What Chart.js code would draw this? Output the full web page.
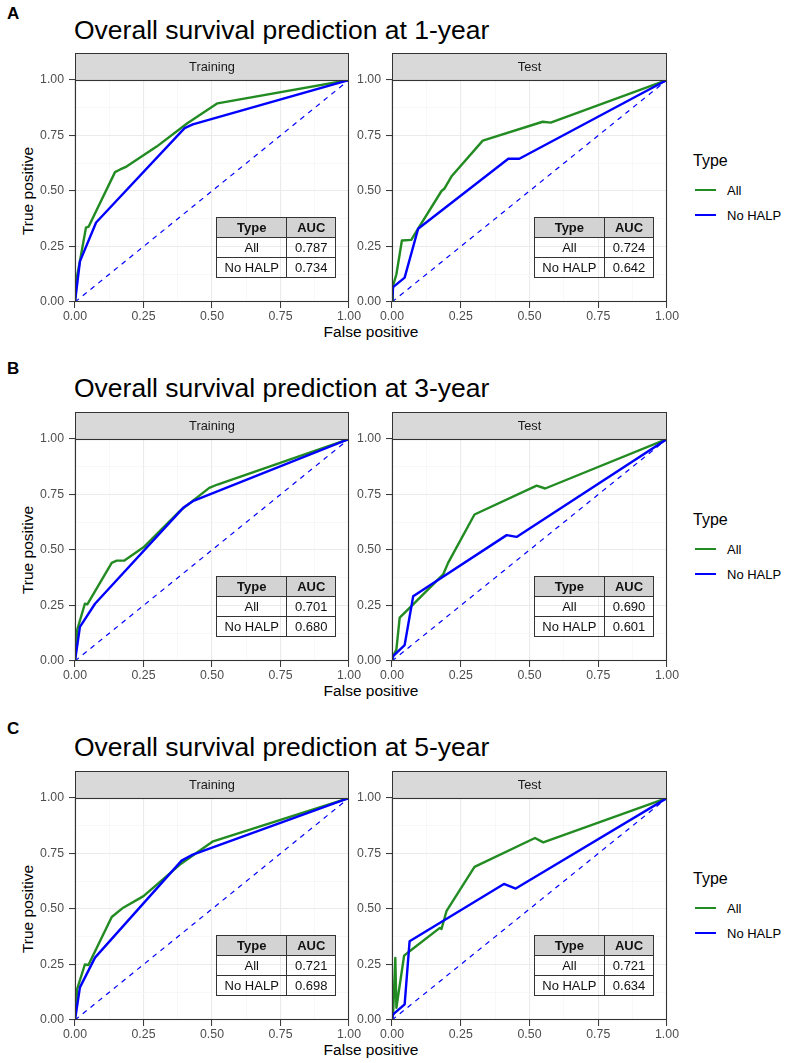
<!DOCTYPE html>
<html>
<head>
<meta charset="utf-8">
<script src="https://cdn.jsdelivr.net/npm/chart.js@4.4.1/dist/chart.umd.min.js"></script>
<style>
  body { margin: 0; background: #fff; font-family: "Liberation Sans", Arial, sans-serif; }
  #page { position: relative; width: 789px; height: 1063px; overflow: hidden; background: #fff; }
  #page div { position: absolute; white-space: nowrap; line-height: 1; }
  canvas { position: absolute; }
  .letter { font-size: 17px; font-weight: bold; color: #000; }
  .title { font-size: 26.5px; color: #000; }
  .axtitle { font-size: 15.5px; color: #000; }
  .legtitle { font-size: 16px; color: #000; }
  .legitem { font-size: 13px; color: #000; }
  table.auc { position: absolute; border-collapse: collapse; font-size: 13px; color: #111; table-layout: fixed; }
  table.auc td, table.auc th { border: 1.3px solid #333; padding: 0; height: 19px; text-align: center; }
  table.auc th { background: #D3D3D3; font-weight: bold; }
</style>
</head>
<body>
<div id="page"></div>
<script>
// ---- data ----
const letters = ['A', 'B', 'C'];
const horizons = ['1-year', '3-year', '5-year'];
const facets = ['Training', 'Test'];
const types = ['All', 'No HALP'];
const typeColors = ['#228B22', '#0000FF'];

// ROC points [false positive, true positive]
const y1TrainAll = [[0,0],[0.008,0.12],[0.018,0.185],[0.04,0.335],[0.05,0.34],[0.146,0.585],[0.165,0.597],[0.188,0.61],[0.298,0.70],[0.41,0.805],[0.52,0.895],[1,1]];
const y1TrainNo  = [[0,0],[0.018,0.183],[0.077,0.358],[0.40,0.783],[0.43,0.80],[1,1]];
const y1TestAll  = [[0,0],[0.003,0.07],[0.016,0.125],[0.036,0.277],[0.07,0.28],[0.095,0.33],[0.18,0.50],[0.19,0.51],[0.216,0.565],[0.33,0.727],[0.548,0.812],[0.577,0.808],[1,1]];
const y1TestNo   = [[0,0],[0.004,0.067],[0.046,0.11],[0.095,0.33],[0.423,0.645],[0.463,0.645],[1,1]];

const y3TrainAll = [[0,0],[0.008,0.14],[0.036,0.258],[0.045,0.255],[0.134,0.442],[0.152,0.452],[0.179,0.452],[0.25,0.512],[0.383,0.676],[0.49,0.78],[0.52,0.795],[1,1]];
const y3TrainNo  = [[0,0],[0.018,0.154],[0.073,0.258],[0.395,0.69],[0.43,0.72],[1,1]];
const y3TestAll  = [[0,0],[0.004,0.022],[0.016,0.052],[0.028,0.195],[0.077,0.255],[0.186,0.39],[0.204,0.442],[0.30,0.66],[0.526,0.79],[0.557,0.777],[1,1]];
const y3TestNo   = [[0,0],[0.004,0.022],[0.046,0.072],[0.077,0.292],[0.417,0.567],[0.453,0.559],[1,1]];

const y5TrainAll = [[0,0],[0.008,0.14],[0.036,0.25],[0.049,0.248],[0.134,0.464],[0.176,0.506],[0.25,0.558],[0.383,0.70],[0.504,0.805],[1,1]];
const y5TrainNo  = [[0,0],[0.018,0.147],[0.073,0.281],[0.389,0.718],[0.43,0.745],[1,1]];
const y5TestAll  = [[0,0],[0.004,0.025],[0.012,0.28],[0.016,0.055],[0.044,0.29],[0.064,0.31],[0.174,0.415],[0.18,0.41],[0.198,0.49],[0.30,0.69],[0.52,0.82],[0.55,0.80],[1,1]];
const y5TestNo   = [[0,0],[0.004,0.025],[0.046,0.07],[0.064,0.355],[0.407,0.613],[0.45,0.592],[1,1]];

const diagonal = [[0,0],[1,1]];

// AUC per row: [training, test]
const aucAll = [[0.787, 0.724], [0.701, 0.690], [0.721, 0.721]];
const aucNo  = [[0.734, 0.642], [0.680, 0.601], [0.698, 0.634]];

const curves = [
  [[y1TrainAll, y1TrainNo], [y1TestAll, y1TestNo]],
  [[y3TrainAll, y3TrainNo], [y3TestAll, y3TestNo]],
  [[y5TrainAll, y5TrainNo], [y5TestAll, y5TestNo]]
];

// ---- layout ----
const stripTops = [53, 412, 771];
const letterCapTops = [7, 362, 722];
const titleCapTops = [20.7, 378, 737.7];
const STRIP = 27, PLOT_H = 222, XAX_H = 24;

const page = document.getElementById('page');
function addText(cls, text, left, top) {
  const d = document.createElement('div');
  d.className = cls;
  d.textContent = text;
  d.style.left = left + 'px';
  d.style.top = top + 'px';
  page.appendChild(d);
  return d;
}

const toXY = pts => pts.map(([x, y]) => ({ x, y }));
const isMajor = v => Math.abs(v * 4 - Math.round(v * 4)) < 1e-9;

// strip, panel border and AUC table placement
const facetDeco = {
  id: 'facetDeco',
  afterDraw(chart, args, opts) {
    const { ctx, chartArea: a } = chart;
    ctx.save();
    ctx.fillStyle = '#D9D9D9';
    ctx.fillRect(a.left, a.top - STRIP, a.right - a.left, STRIP);
    ctx.strokeStyle = '#333333';
    ctx.lineWidth = 1;
    ctx.strokeRect(a.left + 0.5, a.top - STRIP + 0.5, a.right - a.left - 1, STRIP);
    ctx.lineWidth = 1.1;
    ctx.strokeRect(a.left + 0.5, a.top + 0.5, a.right - a.left - 1, a.bottom - a.top - 1);
    ctx.fillStyle = '#1A1A1A';
    ctx.font = '12.8px "Liberation Sans", Arial, sans-serif';
    ctx.textAlign = 'center';
    ctx.textBaseline = 'middle';
    ctx.fillText(opts.strip, (a.left + a.right) / 2, a.top - STRIP / 2 + 1);
    ctx.restore();

    const t = opts.table;
    if (t) {
      const xs = chart.scales.x, ys = chart.scales.y;
      const cv = chart.canvas;
      const l = xs.getPixelForValue(0.515), r = xs.getPixelForValue(0.953);
      const top = ys.getPixelForValue(0.383);
      t.style.left = (cv.offsetLeft + l) + 'px';
      t.style.top = (cv.offsetTop + top) + 'px';
      t.style.width = (r - l) + 'px';
    }
  }
};

function makeTable(r, f) {
  const t = document.createElement('table');
  t.className = 'auc';
  t.innerHTML =
    '<colgroup><col style="width:59%"><col style="width:41%"></colgroup>' +
    '<tr><th>Type</th><th>AUC</th></tr>' +
    '<tr><td>' + types[0] + '</td><td>' + aucAll[r][f].toFixed(3) + '</td></tr>' +
    '<tr><td>' + types[1] + '</td><td>' + aucNo[r][f].toFixed(3) + '</td></tr>';
  page.appendChild(t);
  return t;
}

function axisCfg(isX, fixedSize) {
  return {
    type: 'linear', min: 0, max: 1,
    ticks: {
      stepSize: 0.125, autoSkip: false, maxRotation: 0,
      padding: isX ? 1 : 5,
      color: '#4D4D4D',
      font: { family: '"Liberation Sans", Arial, sans-serif', size: 12.3 },
      callback: v => isMajor(v) ? v.toFixed(2) : ''
    },
    grid: {
      color: c => isMajor(c.tick.value) ? '#EBEBEB' : '#F3F3F3',
      lineWidth: c => isMajor(c.tick.value) ? 1.1 : 0.6,
      tickLength: 6,
      tickColor: c => isMajor(c.tick.value) ? '#333333' : 'rgba(0,0,0,0)',
      tickWidth: 1
    },
    border: { display: false },
    afterFit(s) {
      if (isX) { s.height = fixedSize; s.paddingLeft = 0; s.paddingRight = 0; }
      else { s.width = fixedSize; s.paddingTop = 0; s.paddingBottom = 0; }
    }
  };
}

function facetChart(r, f) {
  const canvas = document.createElement('canvas');
  const isTrain = f === 0;
  const w = isTrain ? 366 : 335;
  const h = STRIP + PLOT_H + XAX_H;
  canvas.width = w; canvas.height = h;
  canvas.style.left = (isTrain ? 0 : 345) + 'px';
  canvas.style.top = stripTops[r] + 'px';
  canvas.style.width = w + 'px'; canvas.style.height = h + 'px';
  page.appendChild(canvas);

  const [allPts, noPts] = curves[r][f];
  const line = (pts, color, width) => ({
    data: toXY(pts), showLine: true, pointRadius: 0, borderColor: color,
    borderWidth: width, borderJoinStyle: 'round', fill: false, tension: 0
  });
  const diag = line(diagonal, '#0000FF', 1.2);
  diag.borderDash = [5, 5];

  return new Chart(canvas.getContext('2d'), {
    type: 'scatter',
    data: { datasets: [line(noPts, typeColors[1], 2.4), line(allPts, typeColors[0], 2.4), diag] },
    options: {
      responsive: false, animation: false, devicePixelRatio: 1,
      layout: { padding: { top: STRIP, right: isTrain ? 17 : 13, left: 0, bottom: 0 } },
      events: [],
      plugins: {
        legend: { display: false }, tooltip: { enabled: false },
        facetDeco: { strip: facets[f], table: makeTable(r, f) }
      },
      scales: { x: axisCfg(true, XAX_H), y: axisCfg(false, isTrain ? 75 : 47) }
    },
    plugins: [facetDeco]
  });
}

for (let r = 0; r < 3; r++) {
  const S = stripTops[r];
  addText('letter', letters[r], 7, letterCapTops[r] - 2.2);
  addText('title', 'Overall survival prediction at ' + horizons[r], 74, titleCapTops[r] - 3.5);

  // y axis title, rotated, centred on the plot
  const yt = addText('axtitle', 'True positive', 0, 0);
  const plotMid = S + STRIP + PLOT_H / 2;
  yt.style.left = '28px';
  yt.style.top = plotMid + 'px';
  yt.style.transform = 'translate(-50%, -50%) rotate(-90deg)';

  // x axis title centred across both facets
  const xt = addText('axtitle', 'False positive', 371, S + STRIP + PLOT_H + 24 - 2);
  xt.style.transform = 'translateX(-50%)';

  // legend
  addText('legtitle', 'Type', 693, S + 102 - 2.1);
  types.forEach((name, i) => {
    const cy = S + 137 + i * 25;
    const sw = document.createElement('div');
    sw.style.left = '695px'; sw.style.top = (cy - 1.2) + 'px';
    sw.style.width = '21px'; sw.style.height = '2.4px';
    sw.style.background = typeColors[i];
    page.appendChild(sw);
    const lab = addText('legitem', name, 727, cy);
    lab.style.transform = 'translateY(-50%)';
  });

  facetChart(r, 0);
  facetChart(r, 1);
}
</script>
</body>
</html>
